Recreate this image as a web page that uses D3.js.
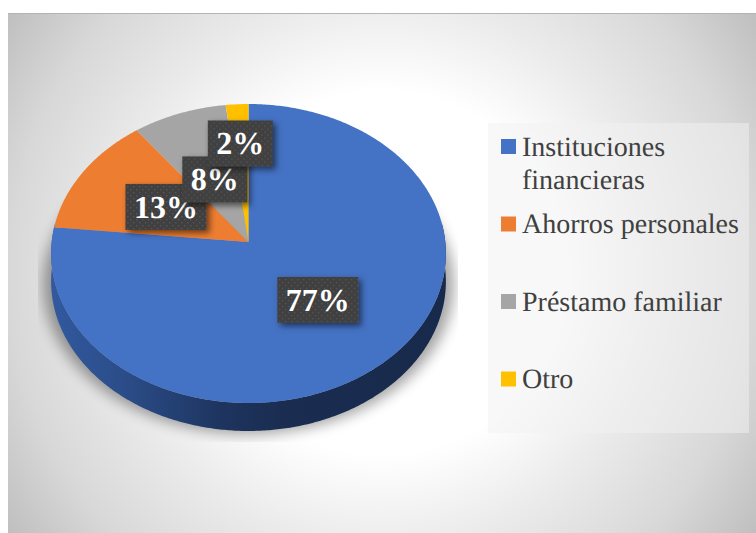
<!DOCTYPE html>
<html><head><meta charset="utf-8">
<script src="https://cdn.jsdelivr.net/npm/d3@7"></script>
<style>html,body{margin:0;padding:0;background:#fff;overflow:hidden}svg{display:block;text-rendering:geometricPrecision}</style>
</head><body><svg id="c" width="756" height="533"></svg>
<script>
const categories = ["Instituciones financieras","Ahorros personales","Préstamo familiar","Otro"];
const values = [76.6,13.1,8.3,2];
const legendLines = [["Instituciones","financieras"],["Ahorros personales"],["Préstamo familiar"],["Otro"]];
const colors = ["#4472C4","#ED7D31","#A5A5A5","#FFC000"];
const labelRadius = [0.51,0.49,0.47,0.70];

const svg = d3.select("#c");
const defs = svg.append("defs");
const serif = "'Liberation Serif','Times New Roman',serif";

const bg = defs.append("radialGradient").attr("id","bg").attr("gradientUnits","userSpaceOnUse")
  .attr("cx",382).attr("cy",273).attr("r",455);
[[0,"#ffffff"],[0.4,"#ffffff"],[0.6,"#ebebeb"],[0.82,"#d8d8d8"],[1,"#bfbfbf"]].forEach(s=>bg.append("stop").attr("offset",s[0]).attr("stop-color",s[1]));
const side = defs.append("linearGradient").attr("id","side").attr("gradientUnits","userSpaceOnUse").attr("x1",52).attr("x2",447).attr("y1",0).attr("y2",0);
[[0,"#32599f"],[0.2,"#2a4b86"],[0.42,"#1e3560"],[0.6,"#1a2c4f"],[1,"#172a4c"]].forEach(s=>side.append("stop").attr("offset",s[0]).attr("stop-color",s[1]));
defs.append("filter").attr("id","blurS").attr("x","-20%").attr("y","-20%").attr("width","140%").attr("height","140%")
  .append("feGaussianBlur").attr("stdDeviation",7);
const sh = defs.append("filter").attr("id","boxS").attr("x","-30%").attr("y","-30%").attr("width","170%").attr("height","170%");
sh.append("feDropShadow").attr("dx",3).attr("dy",3).attr("stdDeviation",3).attr("flood-color","#000").attr("flood-opacity",0.55);
defs.append("clipPath").attr("id","shClip").append("rect").attr("x",38).attr("y",200).attr("width",420).attr("height",242);
const pat = defs.append("pattern").attr("id","dots").attr("patternUnits","userSpaceOnUse").attr("width",6).attr("height",6);
pat.append("rect").attr("width",6).attr("height",6).attr("fill","#404040");
pat.append("rect").attr("x",0).attr("y",0).attr("width",1.4).attr("height",1.4).attr("fill","#565656");
pat.append("rect").attr("x",3).attr("y",3).attr("width",1.4).attr("height",1.4).attr("fill","#565656");

// chart frame
svg.append("rect").attr("x",8).attr("y",13).attr("width",748).attr("height",520).attr("fill","url(#bg)");
svg.append("rect").attr("x",8).attr("y",13).attr("width",748).attr("height",1).attr("fill","#b4b4b4");

// tilted-disc projection
const cx=248.5, cy=242, A=196.8, B=148.6, K=0.0769, depth=28;
const proj=(ang,r=1)=>{const u=r*Math.sin(ang),v=-r*Math.cos(ang),w=1-K*v;return [cx+A*u/w,cy+B*v/w];};
const line=d3.line();
const arcs=d3.pie().sort(null)(values);
const sweep=(a,b)=>d3.range(a,b,0.01).concat([b]);

// soft shadow under the disc
const rim=sweep(0,2*Math.PI).map(a=>proj(a));
svg.append("g").attr("clip-path","url(#shClip)").append("path")
  .attr("d",line(rim.map(p=>[cx+(p[0]-cx)*1.04,p[1]+depth+3]))+"Z").attr("fill","#000").attr("opacity",0.36).attr("filter","url(#blurS)");

// side wall
const front=sweep(Math.PI*0.46,Math.PI*1.54).map(a=>proj(a));
const wall=front.concat(front.slice().reverse().map(p=>[p[0],p[1]+depth]));
svg.append("path").attr("d",line(wall)+"Z").attr("fill","url(#side)");

// slices
svg.append("g").selectAll("path").data(arcs).join("path")
  .attr("d",d=>line([[cx,cy]].concat(sweep(d.startAngle,d.endAngle).map(a=>proj(a))))+"Z")
  .attr("fill",(d,i)=>colors[i]);

// data labels
const pct=d=>Math.round(d.value)+"%";
const fs=32, bw=t=>t.length>2?81:65, bh=46;
const lab=svg.append("g").selectAll("g").data(arcs).join("g")
  .attr("transform",(d,i)=>{const p=proj((d.startAngle+d.endAngle)/2,labelRadius[i]);return `translate(${p[0]},${p[1]})`;});
lab.append("rect").attr("x",d=>-bw(pct(d))/2).attr("y",-bh/2).attr("width",d=>bw(pct(d))).attr("height",bh)
  .attr("fill","url(#dots)").attr("filter","url(#boxS)");
lab.append("text").attr("text-anchor","middle").attr("y",fs*0.34).attr("font-family",serif).attr("font-weight","bold")
  .attr("font-size",fs).attr("fill","#fff").text(pct);

// legend
svg.append("rect").attr("x",488).attr("y",123).attr("width",261).attr("height",310).attr("fill","#f2f2f2").attr("fill-opacity",0.5);
const rowY=d3.scaleLinear().domain([1,3]).range([224,379]);
const item=svg.append("g").selectAll("g").data(categories).join("g")
  .attr("transform",(d,i)=>`translate(501,${i===0?146.5:rowY(i)})`);
item.append("rect").attr("y",-7.5).attr("width",15).attr("height",15).attr("fill",(d,i)=>colors[i]);
item.append("text").attr("font-family",serif).attr("font-size",28).attr("fill","#404040")
  .selectAll("tspan").data((d,i)=>legendLines[i]).join("tspan").attr("x",21).attr("y",(d,j)=>9+j*33).text(d=>d);
</script></body></html>
